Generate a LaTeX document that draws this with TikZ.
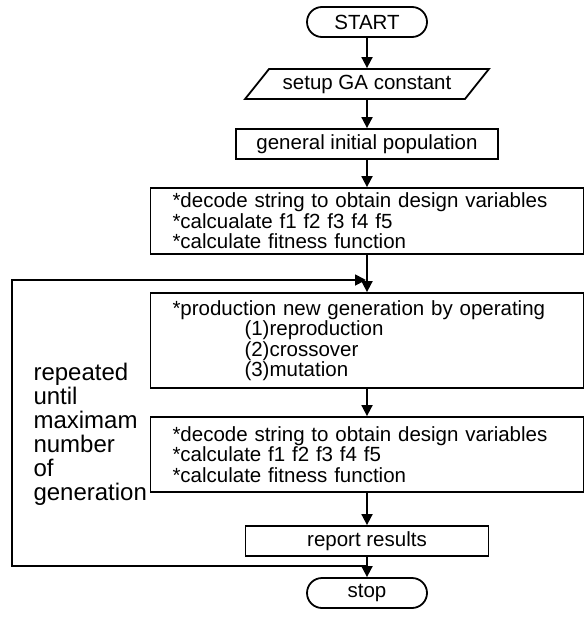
\documentclass[tikz,border=0pt]{standalone}
\usepackage{fontspec}
\setmainfont{Liberation Sans}
\usetikzlibrary{shapes.misc, shapes.geometric}
\usetikzlibrary{arrows.meta}

\tikzset{
  boxfont/.style={font=\fontsize{20.5}{20.5}\selectfont},
  terminal/.style={draw, rounded rectangle, line width=1.8pt, minimum width=120pt, minimum height=30pt, inner sep=0pt, boxfont},
  inputbox/.style={draw, trapezium, trapezium left angle=42, trapezium right angle=138, trapezium stretches=true, line width=1.8pt, minimum width=244pt, minimum height=30pt, inner sep=0pt, boxfont},
  process/.style={draw, rectangle, line width=1.8pt, inner sep=0pt, boxfont},
  widebox/.style={process, minimum width=433pt, text width=389pt, align=left},
  flow/.style={line width=1.8pt, -{Triangle[length=11pt,width=11pt]}},
}

\begin{document}
\begin{tikzpicture}[x=1pt, y=-1pt]
    \useasboundingbox (0,0) rectangle (584,618);

    \node[terminal] (start) at (367,22) {START};
    \node[inputbox] (setup) at (367,84) {setup GA constant};
    \node[process, minimum width=262pt, minimum height=30pt] (init) at (367,144) {general initial population};
    \node[widebox, minimum height=66pt] (eval) at (367,221) {*decode string to obtain design variables\\{*}calcualate f1 f2 f3 f4 f5\\{*}calculate fitness function};
    \node[widebox, minimum height=95pt] (gen) at (367,340.5) {*production new generation by operating\\\hspace*{72pt}(1)reproduction\\\hspace*{72pt}(2)crossover\\\hspace*{72pt}(3)mutation};
    \node[widebox, minimum height=75pt] (reeval) at (367,454.5) {*decode string to obtain design variables\\{*}calculate f1 f2 f3 f4 f5\\{*}calculate fitness function};
    \node[process, minimum width=243pt, minimum height=30pt] (report) at (367,541) {report results};
    \node[terminal] (stop) at (367,593) {stop};

    \node[anchor=west, align=left, font=\fontsize{24}{24}\selectfont] (repeat) at (30,434) {repeated\\until\\maximam\\number\\of\\generation};

    \draw[flow] (start) -- (setup);
    \draw[flow] (setup) -- (init);
    \draw[flow] (init) -- (eval);
    \draw[flow] (eval) -- (gen);
    \draw[flow] (gen) -- (reeval);
    \draw[flow] (reeval) -- (report);
    \draw[flow] (report) -- (stop);

    % loop back
    \coordinate (split) at (367,566);
    \coordinate (loopin) at (367,280);
    \draw[flow, shorten >=1pt] (split) -- ++(-355,0) |- (loopin);

\end{tikzpicture}
\end{document}
